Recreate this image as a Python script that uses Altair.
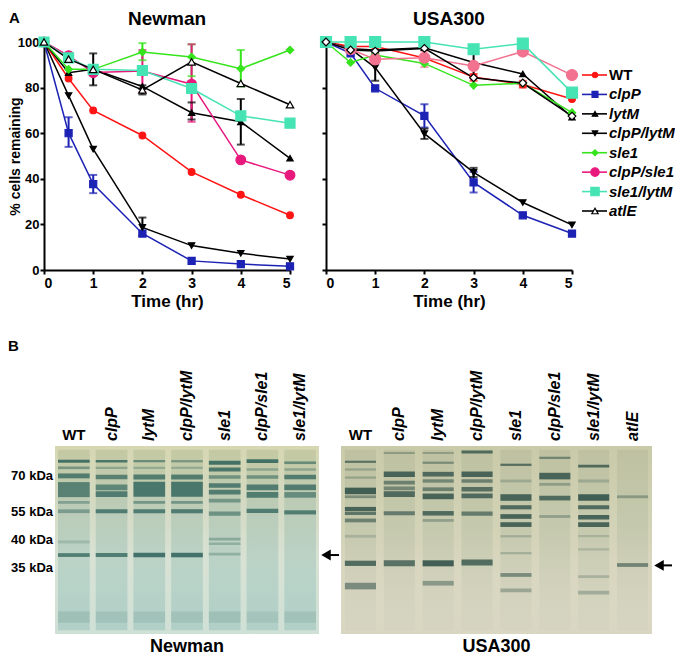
import altair as alt
import pandas as pd

FONT = "Liberation Sans"

# ---------------- data: panel A ----------------
TIME = [0, 0.5, 1, 2, 3, 4, 5]
SERIES = ["WT", "clpP", "lytM", "clpP/lytM", "sle1", "clpP/sle1", "sle1/lytM", "atlE"]

N_WT = [100, 84, 70, 59, 43, 33, 24]
N_CLPP = [100, 60, 37.7, 16, 4, 2.6, 1.6]
N_LYTM = [100, 86.5, 88, 80.5, 69, 65, 49]
N_CLPP_LYTM = [100, 76.5, 53, 18.7, 10.7, 7.3, 4.8]
N_SLE1 = [100, 88, 88, 95.6, 93.4, 88.3, 96.5]
N_CLPP_SLE1 = [100, 94, 86.6, 87.3, 81.5, 48.3, 41.6]
N_SLE1_LYTM = [100, 93, 88, 87.5, 79.6, 67.6, 64.4]
N_ATLE = [100, 92.5, 88, 79, 91.3, 81.8, 72.5]

U_WT = [100, 98, 98, 93, 84.6, 81.4, 75]
U_CLPP = [100, 95, 79.7, 67.6, 38.4, 24, 16]
U_LYTM = [100, 97, 96.5, 97.5, 91, 86, 67]
U_CLPP_LYTM = [100, 97, 88.8, 59.8, 42.8, 29.6, 19.8]
U_SLE1 = [100, 91, 94.3, 90.6, 81, 81.9, 69]
U_CLPP_SLE1 = [100, 96.8, 92.4, 93.1, 89.5, 95.8, 85.5]
U_SLE1_LYTM = [100, 100, 100, 100, 96.8, 99.3, 77.8]
U_ATLE = [100, 96.5, 96, 97.2, 84.3, 82, 67.5]

# error bars: (series, time, low, high)
N_ERR = [("clpP", 0.5, 54, 67), ("clpP", 1, 33.7, 41.7), ("clpP/lytM", 2, 15, 23),
         ("lytM", 3, 66, 73.5), ("lytM", 4, 55, 75), ("atlE", 1, 81, 95),
         ("atlE", 2, 77, 81), ("sle1", 2, 92, 99.5), ("sle1", 3, 85, 99),
         ("sle1", 4, 80.5, 96.5), ("clpP/sle1", 2, 78, 96.5), ("clpP/sle1", 3, 65, 99),
         ("sle1/lytM", 3, 78, 82)]
U_ERR = [("clpP", 2, 62.5, 72.7), ("clpP", 3, 34, 43), ("clpP/lytM", 1, 83, 94.5),
         ("clpP/lytM", 2, 57.5, 62), ("clpP/lytM", 3, 40.8, 44.8), ("clpP/sle1", 2, 89, 96),
         ("clpP/sle1", 1, 90.5, 94.5), ("lytM", 3, 84.5, 95), ("WT", 3, 83, 86),
         ("WT", 4, 80, 83), ("sle1/lytM", 3, 95, 98.5)]

# ---------------- data: panel B (gels) ----------------
N_LANES = ["WT", "clpP", "lytM", "clpP/lytM", "sle1", "clpP/sle1", "sle1/lytM"]
U_LANES = ["WT", "clpP", "lytM", "clpP/lytM", "sle1", "clpP/sle1", "sle1/lytM", "atlE"]

# (lane index, migration position 0-100, band thickness, intensity)
N_BANDS = [
    (0, 8.1, 1.6, 0.85), (0, 11.6, 1.4, 0.5), (0, 15.9, 2.6, 0.75), (0, 23.2, 8, 0.7),
    (0, 30, 1.5, 0.4), (0, 34.7, 2.0, 0.45), (0, 51, 1.6, 0.2), (0, 58, 2.0, 0.75), (0, 91, 6, 0.15),
    (1, 8.1, 1.4, 0.8), (1, 11.6, 1.2, 0.35), (1, 16.5, 2.5, 0.7), (1, 22, 3, 0.65),
    (1, 25.6, 3, 0.75), (1, 34.7, 2.2, 0.75), (1, 58, 2.2, 0.75), (1, 91, 6, 0.12),
    (2, 8.1, 1.2, 0.6), (2, 11.6, 1.2, 0.3), (2, 16.5, 2.6, 0.75), (2, 23, 8, 0.8),
    (2, 30, 1.5, 0.5), (2, 34.7, 2.2, 0.75), (2, 58, 2.4, 0.85), (2, 91, 6, 0.12),
    (3, 8.1, 1.2, 0.5), (3, 11.6, 1.2, 0.3), (3, 16.5, 2.6, 0.75), (3, 23, 8, 0.8),
    (3, 30, 1.5, 0.5), (3, 34.7, 2.2, 0.75), (3, 58, 2.4, 0.85), (3, 91, 6, 0.12),
    (4, 8.9, 2.2, 0.85), (4, 12.5, 2.0, 0.8), (4, 16.5, 1.8, 0.55), (4, 21, 2.5, 0.75),
    (4, 24.5, 2.5, 0.75), (4, 29, 2, 0.5), (4, 36, 2.2, 0.55), (4, 49.5, 1.4, 0.35),
    (4, 52, 1.4, 0.3), (4, 57.5, 1.4, 0.3), (4, 91, 6, 0.15),
    (5, 8.1, 2.0, 0.85), (5, 12.5, 1.3, 0.35), (5, 16.5, 1.8, 0.55), (5, 22, 3, 0.75),
    (5, 26, 3, 0.75), (5, 34.5, 2.2, 0.75), (5, 91, 6, 0.1),
    (6, 8.9, 1.4, 0.6), (6, 12.5, 1.3, 0.35), (6, 16.5, 2.4, 0.75), (6, 22, 3, 0.75),
    (6, 26, 3, 0.6), (6, 35.3, 2.2, 0.75), (6, 91, 6, 0.12),
]
U_BANDS = [
    (0, 8.4, 1.2, 0.7), (0, 12.5, 1.2, 0.3), (0, 16.8, 1.2, 0.3), (0, 23.9, 3.5, 0.9),
    (0, 27, 1.5, 0.5), (0, 33.5, 2.2, 0.85), (0, 35.8, 1.8, 0.7), (0, 39.6, 2, 0.6),
    (0, 48, 1.5, 0.2), (0, 62.4, 2.8, 0.8), (0, 74.5, 3.5, 0.55),
    (1, 3.7, 1, 0.35), (1, 15, 3, 0.85), (1, 19.5, 2, 0.6), (1, 22.5, 2, 0.55),
    (1, 25.6, 3, 0.8), (1, 35.8, 2.2, 0.65), (1, 62.4, 3.2, 0.75),
    (2, 3.7, 1, 0.35), (2, 8.9, 1.2, 0.5), (2, 15, 2.5, 0.8), (2, 18.6, 1.8, 0.55),
    (2, 23, 2, 0.6), (2, 26.8, 3, 0.85), (2, 35.8, 2.4, 0.8), (2, 39.6, 1.5, 0.35),
    (2, 62.4, 3.2, 0.9), (2, 73, 2.5, 0.45),
    (3, 3.2, 1.5, 0.8), (3, 15, 3, 0.85), (3, 18.6, 1.8, 0.6), (3, 23, 2.5, 0.75),
    (3, 26.5, 2.5, 0.8), (3, 36, 2.2, 0.65), (3, 62, 3.2, 0.8),
    (4, 10, 1.2, 0.75), (4, 18.6, 1.5, 0.25), (4, 27.4, 3.5, 0.85), (4, 32.6, 2.2, 0.8),
    (4, 37.5, 2.5, 0.85), (4, 41.8, 2.5, 0.85), (4, 48, 1.2, 0.25), (4, 57, 1.2, 0.25),
    (4, 68.6, 2, 0.55), (4, 76.8, 2, 0.35),
    (5, 6.3, 1.2, 0.55), (5, 16, 3.5, 0.85), (5, 20.4, 1.5, 0.35), (5, 27.7, 2.5, 0.8),
    (5, 37.5, 1.5, 0.35),
    (6, 10.7, 1.5, 0.8), (6, 18.6, 1.5, 0.25), (6, 27.4, 3.5, 0.9), (6, 32.6, 2.2, 0.8),
    (6, 37.9, 2.5, 0.85), (6, 41.8, 2.5, 0.85), (6, 48, 1.2, 0.2), (6, 55, 1.2, 0.2),
    (6, 69.5, 1.5, 0.25), (6, 78, 2, 0.3),
    (7, 27, 1.5, 0.4), (7, 63.3, 2, 0.6),
]
KDA_LABELS = ["70 kDa", "55 kDa", "40 kDa", "35 kDa"]
KDA_POS = [15.8, 35.3, 50, 64.7]
N_ARROW = 58
U_ARROW = 63.5

# ---------------- styles ----------------
N_COLORS = ["#ff1414", "#1c22b4", "#000000", "#000000", "#36e41c", "#e8197d", "#46e4b4", "#000000"]
U_COLORS = ["#ff1414", "#1c22b4", "#000000", "#000000", "#36e41c", "#f2728f", "#46e4b4", "#000000"]
L_COLORS = ["#ff1414", "#1c22b4", "#000000", "#000000", "#36e41c", "#e8197d", "#46e4b4", "#000000"]
N_SHAPES = ["circle", "square", "triangle-up", "triangle-down", "diamond", "circle", "square", "triangle-up"]
U_SHAPES = ["circle", "square", "triangle-up", "triangle-down", "diamond", "circle", "square", "diamond"]
L_SHAPES = N_SHAPES
N_SIZES = [45, 50, 40, 40, 55, 95, 100, 55]
U_SIZES = [45, 50, 40, 40, 55, 120, 120, 60]
L_SIZES = [30, 35, 30, 30, 35, 70, 70, 40]
FILLS = {"atlE": "#ffffff"}

AX = dict(domainColor="black", domainWidth=2, tickColor="black", tickWidth=2, tickSize=4,
          labelColor="black", labelFont=FONT, labelFontWeight="bold", titleFont=FONT,
          titleFontWeight="bold", titleColor="black", grid=False)

PW, PH = 246, 228


def growth_panel(values, colors, shapes, sizes, errs, title, first, legend=False):
    rows = []
    for i, s in enumerate(SERIES):
        for t, v in zip(TIME, values[i]):
            rows.append({"series": s, "time": t, "value": v, "col": colors[i],
                         "shp": shapes[i], "sz": sizes[i], "fil": FILLS.get(s, colors[i])})
    df = pd.DataFrame(rows)
    cmap = dict(zip(SERIES, colors))
    err = pd.DataFrame(errs, columns=["series", "time", "value", "hi"])
    err["col"] = err["series"].map(cmap)
    err_hi = err.assign(value=err["hi"])

    xkw = dict(values=[0, 1, 2, 3, 4, 5], title="Time (hr)", labelFontSize=14, titleFontSize=17,
               labelPadding=2, titlePadding=3, **AX)
    ykw = dict(values=[0, 20, 40, 60, 80, 100], labels=first, labelFontSize=13, labelPadding=1, **AX)
    if first:
        ykw.update(title="% cells remaining", titleFontSize=14, titleX=-29, titleBaseline="middle")
    else:
        ykw.update(title="")
    xs = alt.Scale(domain=[0, 5], nice=False)
    ys = alt.Scale(domain=[0, 100], nice=False)
    X = alt.X("time:Q", scale=xs, axis=alt.Axis(**xkw))
    Y = alt.Y("value:Q", scale=ys, axis=alt.Axis(**ykw))
    col = alt.Color("col:N", scale=None)

    lines = alt.Chart(df).mark_line(strokeWidth=1.5).encode(
        x=X, y=Y, color=col, detail="series:N", order="time:Q")
    erule = alt.Chart(err).mark_rule(strokeWidth=2).encode(x=X, y=Y, y2="hi:Q", color=col)
    cap_lo = alt.Chart(err).mark_tick(orient="horizontal", size=8, thickness=2).encode(x=X, y=Y, color=col)
    cap_hi = alt.Chart(err_hi).mark_tick(orient="horizontal", size=8, thickness=2).encode(x=X, y=Y, color=col)
    pts = alt.Chart(df).mark_point(filled=False, opacity=1, strokeWidth=1.2).encode(
        x=X, y=Y,
        shape=alt.Shape("shp:N", scale=None),
        size=alt.Size("sz:Q", scale=None),
        fill=alt.Fill("fil:N", scale=None),
        stroke=alt.Stroke("col:N", scale=None),
    )
    ttl = alt.Chart(pd.DataFrame({"t": [title]})).mark_text(
        align="center", baseline="middle", fontSize=19, fontWeight="bold", font=FONT, color="black"
    ).encode(text="t:N", x=alt.value(PW / 2), y=alt.value(-23))
    extra = [ttl]
    if first:
        extra.append(alt.Chart(pd.DataFrame({"t": ["A"]})).mark_text(
            align="left", baseline="middle", fontSize=15, fontWeight="bold", font=FONT, color="black"
        ).encode(text="t:N", x=alt.value(-35), y=alt.value(-24)))
    main = alt.layer(lines, erule, cap_lo, cap_hi, pts, *extra)

    if legend:
        leg = pd.DataFrame({"series": SERIES, "col": L_COLORS, "shp": L_SHAPES, "sz": L_SIZES,
                            "fil": [FILLS.get(s, c) for s, c in zip(SERIES, L_COLORS)]})
        LY = alt.Y("series:N", scale=alt.Scale(type="point", domain=SERIES, range=[33, 169], padding=0),
                   axis=None)
        base = alt.Chart(leg)
        lrule = base.mark_rule(strokeWidth=1.6).encode(
            y=LY, x=alt.value(PW + 10), x2=alt.value(PW + 35), color=alt.Color("col:N", scale=None))
        lpts = base.mark_point(filled=False, opacity=1, strokeWidth=1.2).encode(
            y=LY, x=alt.value(PW + 23),
            shape=alt.Shape("shp:N", scale=None), size=alt.Size("sz:Q", scale=None),
            fill=alt.Fill("fil:N", scale=None), stroke=alt.Stroke("col:N", scale=None))
        ltxt_it = base.transform_filter("datum.series != 'WT'").mark_text(
            align="left", baseline="middle", fontSize=15, fontWeight="bold", fontStyle="italic",
            font=FONT, color="black").encode(y=LY, x=alt.value(PW + 37), text="series:N")
        ltxt = base.transform_filter("datum.series == 'WT'").mark_text(
            align="left", baseline="middle", fontSize=15, fontWeight="bold",
            font=FONT, color="black").encode(y=LY, x=alt.value(PW + 37), text="series:N")
        main = alt.layer(main, alt.layer(lrule, lpts, ltxt_it, ltxt)).resolve_scale(y="independent")

    return main.properties(width=PW, height=PH)


GH = 188
N_UNIT = 264 / 7          # px per lane in the Newman gel
N_LEFT = 11               # blank px left of the Newman gel


def gradient(stops):
    return alt.Gradient(gradient="linear", x1=0, x2=0, y1=0, y2=1,
                        stops=[alt.GradientStop(color=c, offset=o) for o, c in stops])


def gel_panel(lanes, bands, width, x0, bg_stops, lane_stops, lane_op, band_color, half,
              title, arrow_pos, first=False):
    n = len(lanes)
    xs = alt.Scale(domain=[x0, n], nice=False, zero=False)
    ys = alt.Scale(domain=[0, 100], reverse=True, nice=False, zero=False)
    px = width / (n - x0)
    gel_left = -x0 * px
    bg = alt.Chart(pd.DataFrame({"x0": [0], "x1": [n], "y0": [0], "y1": [100]})).mark_rect(
        fill=gradient(bg_stops)).encode(
        x=alt.X("x0:Q", scale=xs, axis=None), x2="x1:Q",
        y=alt.Y("y0:Q", scale=ys, axis=None), y2="y1:Q")
    ldf = pd.DataFrame({"name": lanes, "idx": list(range(n))})
    ldf["ctr"] = ldf["idx"] + 0.5
    ldf["lo"] = ldf["ctr"] - half
    ldf["hi"] = ldf["ctr"] + half
    ldf["top"] = 2
    ldf["bot"] = 98
    lane_rect = alt.Chart(ldf).mark_rect(fill=gradient(lane_stops), opacity=lane_op).encode(
        x=alt.X("lo:Q", scale=xs, axis=None), x2="hi:Q",
        y=alt.Y("top:Q", scale=ys, axis=None), y2="bot:Q")
    bdf = pd.DataFrame(bands, columns=["lane", "pos", "th", "a"])
    band = alt.Chart(bdf).transform_calculate(
        x0=f"datum.lane + 0.5 - {half}", x1=f"datum.lane + 0.5 + {half}",
        y0="datum.pos - datum.th / 2", y1="datum.pos + datum.th / 2",
    ).mark_rect(color=band_color).encode(
        x=alt.X("x0:Q", scale=xs, axis=None), x2="x1:Q",
        y=alt.Y("y0:Q", scale=ys, axis=None), y2="y1:Q",
        opacity=alt.Opacity("a:Q", scale=None))
    lab_it = alt.Chart(ldf).transform_filter("datum.name != 'WT'").mark_text(
        angle=270, align="left", baseline="middle", fontSize=16, fontWeight="bold",
        fontStyle="italic", font=FONT, color="black").encode(
        x=alt.X("ctr:Q", scale=xs, axis=None), y=alt.value(-5), text="name:N")
    lab_wt = alt.Chart(ldf).transform_filter("datum.name == 'WT'").mark_text(
        align="center", baseline="alphabetic", fontSize=15, fontWeight="bold",
        font=FONT, color="black").encode(
        x=alt.X("ctr:Q", scale=xs, axis=None), y=alt.value(-6), text="name:N")
    adf = pd.DataFrame({"pos": [arrow_pos]})
    arr_rule = alt.Chart(adf).mark_rule(strokeWidth=2, color="black").encode(
        y=alt.Y("pos:Q", scale=ys, axis=None), x=alt.value(width + 5), x2=alt.value(width + 20))
    arr_head = alt.Chart(adf).mark_point(shape="triangle-left", filled=True, color="black",
                                         size=120, opacity=1).encode(
        y=alt.Y("pos:Q", scale=ys, axis=None), x=alt.value(width + 7))
    ttl = alt.Chart(pd.DataFrame({"t": [title]})).mark_text(
        align="center", baseline="middle", fontSize=18, fontWeight="bold", font=FONT,
        color="black").encode(text="t:N", x=alt.value(gel_left + (width - gel_left) / 2),
                              y=alt.value(GH + 13))
    layers = [bg, lane_rect, band, lab_it, lab_wt, arr_rule, arr_head, ttl]
    if first:
        kdf = pd.DataFrame({"label": KDA_LABELS, "pos": KDA_POS})
        kda = alt.Chart(kdf).mark_text(align="right", baseline="middle", fontSize=13,
                                       fontWeight="bold", font=FONT, color="black").encode(
            y=alt.Y("pos:Q", scale=ys, axis=None), x=alt.value(gel_left - 2), text="label:N")
        letter = alt.Chart(pd.DataFrame({"t": ["B"]})).mark_text(
            align="left", baseline="middle", fontSize=15, fontWeight="bold", font=FONT,
            color="black").encode(text="t:N", x=alt.value(-36), y=alt.value(-100))
        layers += [kda, letter]
    return alt.layer(*layers).properties(width=width, height=GH)


newman = growth_panel([N_WT, N_CLPP, N_LYTM, N_CLPP_LYTM, N_SLE1, N_CLPP_SLE1, N_SLE1_LYTM, N_ATLE],
                      N_COLORS, N_SHAPES, N_SIZES, N_ERR, "Newman", True)
usa = growth_panel([U_WT, U_CLPP, U_LYTM, U_CLPP_LYTM, U_SLE1, U_CLPP_SLE1, U_SLE1_LYTM, U_ATLE],
                   U_COLORS, U_SHAPES, U_SIZES, U_ERR, "USA300", False, legend=True)

gel_n = gel_panel(N_LANES, N_BANDS, 264 + N_LEFT, -N_LEFT / N_UNIT,
                  [(0, "#d6d7b2"), (0.3, "#d3d9c2"), (0.6, "#d8e2d4"), (1, "#cfe0d6")],
                  [(0, "#b9c098"), (0.35, "#a9c2b0"), (0.7, "#a6c9c0"), (1, "#9cc4bd")], 0.6,
                  "#2d625a", 0.42, "Newman", N_ARROW, first=True)
gel_u = gel_panel(U_LANES, U_BANDS, 311, 0,
                  [(0, "#c9caa8"), (0.4, "#d2d2b6"), (0.7, "#dad7c1"), (1, "#d9d6c2")],
                  [(0, "#b7bc9c"), (0.45, "#bcc3a8"), (0.8, "#cfd0bb"), (1, "#d4d3bf")], 0.6,
                  "#33524a", 0.40, "USA300", U_ARROW)

row1 = alt.hconcat(newman, usa, spacing=36, bounds="flush")
row2 = alt.hconcat(gel_n, gel_u, spacing=22, bounds="flush")

chart = alt.vconcat(row1, row2, spacing=30).properties(
    padding={"left": 0, "top": 2, "right": 0, "bottom": 0}
).configure_view(stroke=None)

chart.save("out.html", embed_options={"renderer": "svg", "actions": False})
